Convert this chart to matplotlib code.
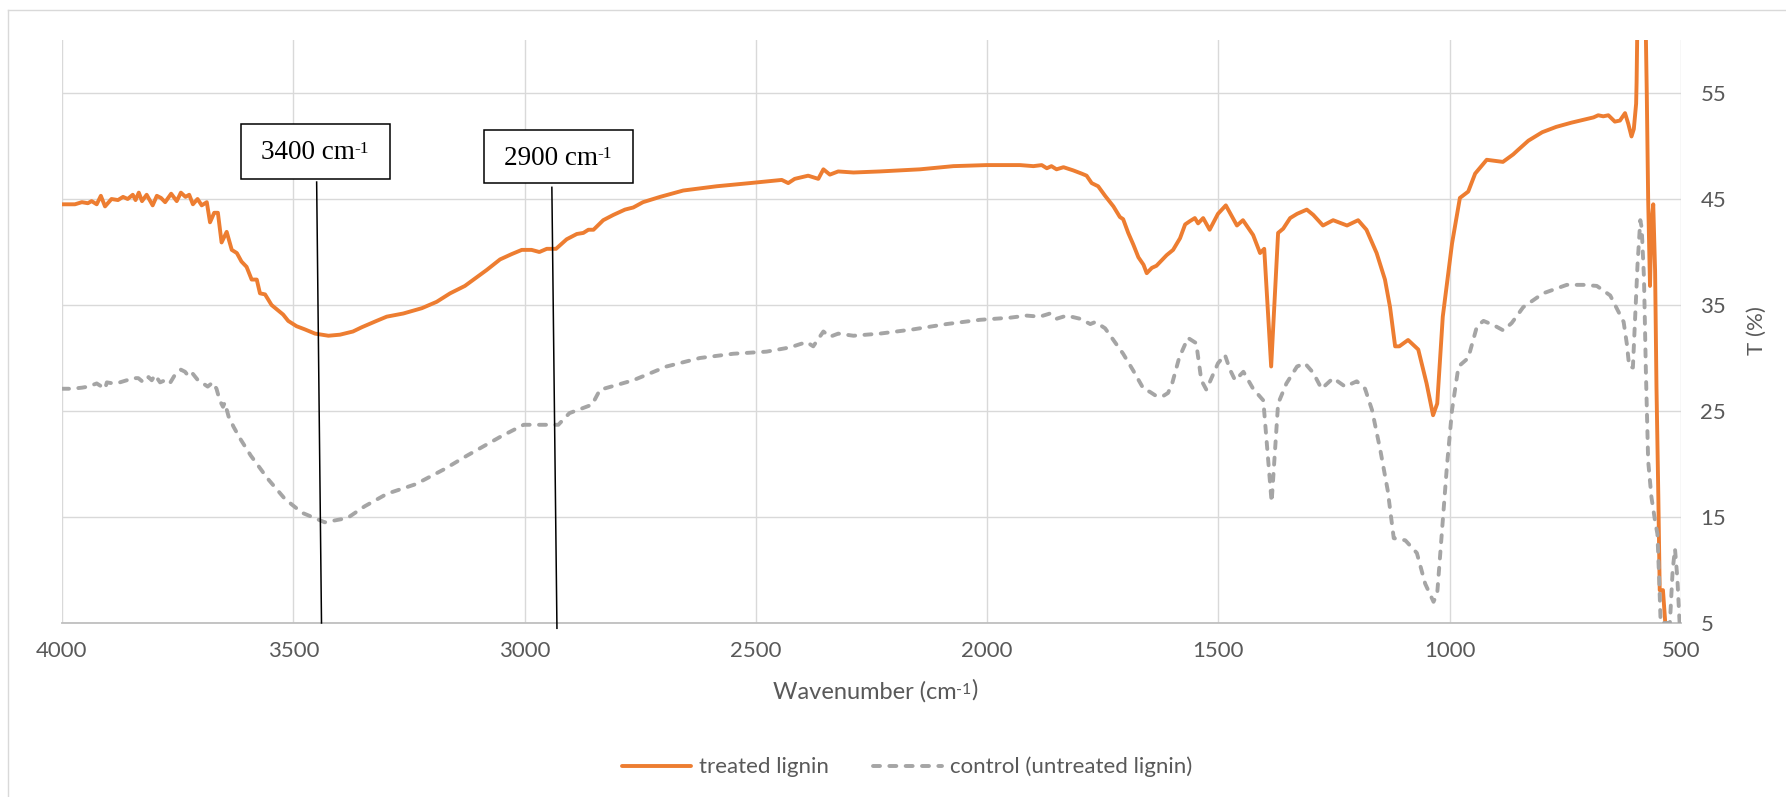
import matplotlib
matplotlib.use("Agg")
import matplotlib.pyplot as plt
from matplotlib.patches import Rectangle
from matplotlib.lines import Line2D

# ---------------- data ----------------
treated_wn = [4000, 3972, 3957, 3944, 3936, 3925, 3916, 3907, 3893, 3879, 3868, 3858, 3847, 3841,
              3834, 3827, 3817, 3804, 3795, 3786, 3777, 3764, 3752, 3743, 3733, 3725, 3717, 3707,
              3698, 3687, 3680, 3671, 3663, 3655, 3644, 3633, 3622, 3612, 3601, 3590, 3579, 3572,
              3561, 3547, 3536, 3522, 3511, 3493, 3475, 3453, 3424, 3399, 3371, 3352, 3320, 3298,
              3262, 3222, 3190, 3161, 3129, 3107, 3082, 3053, 3028, 3006, 2985, 2968, 2952, 2932,
              2909, 2887, 2873, 2862, 2851, 2830, 2808, 2783, 2765, 2744, 2707, 2657, 2585, 2513,
              2444, 2430, 2416, 2387, 2365, 2354, 2340, 2322, 2289, 2232, 2145, 2073, 2001, 1958,
              1929, 1900, 1882, 1871, 1861, 1850, 1835, 1814, 1796, 1785, 1774, 1760, 1745, 1727,
              1713, 1706, 1695, 1684, 1673, 1662, 1655, 1644, 1634, 1612, 1598, 1583, 1572, 1562,
              1551, 1544, 1533, 1519, 1501, 1484, 1460, 1447, 1425, 1410, 1401, 1386, 1371, 1360,
              1345, 1330, 1309, 1295, 1274, 1252, 1222, 1198, 1180, 1158, 1140, 1129, 1118, 1109,
              1090, 1068, 1050, 1036, 1027, 1015, 995, 978, 960, 945, 920, 885, 863, 853, 830,
              800, 770, 737, 718, 689, 679, 668, 657, 643, 632, 621, 614, 607, 602, 597, 596, 593,
              578, 574, 571, 567, 564, 560, 556, 553, 549, 546, 539, 534]
treated_T = [44.5, 44.5, 44.7, 44.6, 44.8, 44.5, 45.3, 44.3, 45.0, 44.9, 45.2, 45.0, 45.4, 44.9,
             45.6, 44.8, 45.4, 44.4, 45.3, 45.1, 44.7, 45.5, 44.8, 45.6, 45.2, 45.4, 44.5, 45.0,
             44.4, 44.7, 42.8, 43.7, 43.7, 40.9, 41.9, 40.2, 39.9, 39.1, 38.6, 37.4, 37.4, 36.1,
             36.0, 35.0, 34.6, 34.1, 33.5, 33.0, 32.7, 32.3, 32.1, 32.2, 32.5, 32.9, 33.5, 33.9,
             34.2, 34.7, 35.3, 36.1, 36.8, 37.5, 38.3, 39.3, 39.8, 40.2, 40.2, 40.0, 40.3, 40.3,
             41.2, 41.7, 41.8, 42.1, 42.1, 43.0, 43.5, 44.0, 44.2, 44.7, 45.2, 45.8, 46.2, 46.5,
             46.8, 46.5, 46.9, 47.2, 46.9, 47.8, 47.3, 47.6, 47.5, 47.6, 47.8, 48.1, 48.2, 48.2,
             48.2, 48.1, 48.2, 47.9, 48.1, 47.8, 48.0, 47.7, 47.4, 47.2, 46.5, 46.2, 45.3, 44.3,
             43.3, 43.1, 41.8, 40.7, 39.5, 38.8, 38.0, 38.5, 38.7, 39.7, 40.2, 41.3, 42.6, 42.9,
             43.2, 42.7, 43.2, 42.1, 43.6, 44.4, 42.5, 43.0, 41.6, 39.9, 40.3, 29.2, 41.8, 42.2,
             43.2, 43.6, 44.0, 43.5, 42.5, 43.0, 42.5, 43.0, 42.1, 39.9, 37.4, 34.8, 31.1, 31.1,
             31.7, 30.8, 27.6, 24.6, 25.7, 33.9, 40.8, 45.1, 45.7, 47.4, 48.7, 48.5, 49.2, 49.6, 50.5,
             51.3, 51.8, 52.2, 52.4, 52.7, 52.9, 52.8, 52.9, 52.3, 52.4, 53.1, 52.1, 50.9, 51.6, 54.0, 56.0, 66.0,
             66.0, 55.0, 45.0, 36.8, 42.6, 44.5, 38.2, 27.2, 16.9, 8.1, 8.1, 5.0]

control_wn = [4000, 3979, 3957, 3943, 3925, 3907, 3903, 3889, 3875, 3860, 3849, 3835, 3824, 3813,
              3806, 3799, 3788, 3777, 3767, 3756, 3743, 3734, 3725, 3717, 3706, 3695, 3685, 3674,
              3666, 3659, 3652, 3648, 3640, 3629, 3615, 3592, 3555, 3518, 3481, 3432, 3383, 3346,
              3297, 3235, 3174, 3124, 3051, 3002, 2965, 2927, 2903, 2854, 2837, 2765, 2693, 2621,
              2549, 2477, 2426, 2405, 2390, 2376, 2354, 2340, 2322, 2289, 2232, 2160, 2088, 2016,
              1951, 1915, 1886, 1864, 1850, 1828, 1799, 1777, 1766, 1745, 1727, 1706, 1684, 1662,
              1648, 1634, 1620, 1609, 1600, 1585, 1566, 1548, 1537, 1526, 1501, 1486, 1475, 1464,
              1446, 1425, 1403, 1385, 1371, 1353, 1330, 1313, 1295, 1277, 1252, 1226, 1201, 1183,
              1168, 1150, 1134, 1121, 1096, 1071, 1053, 1035, 1027, 1017, 1006, 995, 981, 960, 941,
              927, 905, 884, 866, 841, 798, 747, 711, 682, 653, 639, 624, 617, 612, 604, 599, 594,
              588, 585, 580, 576, 571, 564, 556, 551, 547, 544, 524, 518, 513, 508, 503]
control_T = [27.1, 27.1, 27.2, 27.3, 27.6, 27.1, 27.7, 27.6, 27.7, 27.9, 28.1, 28.1, 27.7, 28.2,
             27.9, 28.4, 27.7, 27.9, 27.6, 28.4, 28.9, 28.7, 28.2, 28.5, 27.9, 27.6, 27.3, 27.7,
             27.1, 26.0, 25.4, 25.8, 24.5, 23.5, 22.4, 20.8, 18.6, 16.7, 15.4, 14.5, 14.9, 16.0,
             17.2, 18.1, 19.5, 20.8, 22.6, 23.7, 23.7, 23.7, 24.8, 25.6, 27.0, 27.9, 29.2, 30.0,
             30.4, 30.6, 31.0, 31.3, 31.5, 31.1, 32.5, 32.0, 32.3, 32.1, 32.3, 32.7, 33.2, 33.6,
             33.8, 34.0, 33.9, 34.2, 33.7, 34.0, 33.7, 33.2, 33.4, 32.8, 31.7, 30.4, 28.8, 27.1,
             26.8, 26.4, 26.4, 26.7, 27.6, 30.0, 31.9, 31.4, 27.9, 27.0, 29.5, 30.3, 28.9, 27.9,
             28.7, 27.1, 26.0, 16.4, 25.7, 27.6, 29.2, 29.5, 28.6, 27.1, 28.1, 27.3, 27.8, 27.1,
             25.1, 21.3, 17.5, 13.0, 12.8, 11.6, 8.7, 7.0, 7.8, 13.5, 19.8, 25.1, 29.2, 30.0, 33.0,
             33.5, 33.1, 32.6, 33.3, 34.8, 36.1, 36.9, 36.9, 36.8, 35.9, 34.7, 33.4, 31.3, 29.2, 29.1, 34.0, 38.8,
             43.0, 42.3, 37.5, 28.9, 20.3, 16.9, 14.6, 13.4, 8.9, 5.0, 5.0, 10.0, 12.0, 9.3, 5.0]

x_ticks = [4000, 3500, 3000, 2500, 2000, 1500, 1000, 500]
y_ticks = [5, 15, 25, 35, 45, 55]
series_labels = ["treated lignin", "control (untreated lignin)"]
callout_labels = ["3400 cm", "2900 cm"]
unit_superscript = "-1"
x_title = "Wavenumber (cm"
y_title = "T (%)"

# ---------------- figure ----------------
W, H = 1786, 797
fig = plt.figure(figsize=(W / 100, H / 100), dpi=100)
fig.patch.set_facecolor("white")

L, R, T, B = 62, 1681, 40, 623
ax = fig.add_axes([L / W, 1 - B / H, (R - L) / W, (B - T) / H])

txt_color = "#595959"
sans = ["Lato", "DejaVu Sans"]
serif = ["Liberation Serif", "DejaVu Serif"]

orange = "#ED7D31"
gray = "#A5A5A5"

ax.plot(treated_wn, treated_T, color=orange, lw=2.8, solid_joinstyle="round",
        solid_capstyle="round", label=series_labels[0], zorder=3)
ax.plot(control_wn, control_T, color=gray, lw=2.8, dashes=(1.8, 2.4),
        dash_capstyle="round", dash_joinstyle="round", label=series_labels[1], zorder=3)

ax.set_xlim(4000, 500)
ax.set_ylim(5, 60)
ax.set_xticks(x_ticks)
ax.set_yticks(y_ticks)
ax.yaxis.tick_right()
ax.grid(True, color="#D9D9D9", lw=1.0)
ax.set_axisbelow(True)
for s in ["top", "left", "right"]:
    ax.spines[s].set_visible(False)
ax.spines["bottom"].set_color("#BFBFBF")
ax.spines["bottom"].set_linewidth(1.3)
ax.spines["bottom"].set_zorder(2)
ax.tick_params(axis="both", length=0, labelsize=16, labelcolor=txt_color)
ax.tick_params(axis="x", pad=13)
ax.tick_params(axis="y", pad=14)
for lab in ax.get_xticklabels() + ax.get_yticklabels():
    lab.set_family(sans)

# axis titles (superscript unit drawn as separate small text)
xt = ax.annotate(x_title, xy=((L + R) / 2 / W, 1 - 692 / H), xycoords="figure fraction",
                 xytext=(-5, 0), textcoords="offset points", ha="center", va="center",
                 fontsize=17, color=txt_color, family=sans)
ax.annotate(unit_superscript + ")", xy=(1.0, 0.5), xycoords=xt, ha="left", va="center",
            fontsize=17, color="white", family=sans, alpha=0)
sup = ax.annotate(unit_superscript, xy=(1.0, 0.93), xycoords=xt, ha="left", va="top",
                  fontsize=11.5, color=txt_color, family=sans)
ax.annotate(")", xy=(1.0, 0.5), xycoords=sup, xytext=(0, 0), textcoords="offset points",
            ha="left", va="center", fontsize=17, color=txt_color, family=sans,
            annotation_clip=False)
fig.text(1757 / W, 1 - 331 / H, y_title, rotation=90, ha="center", va="center",
         fontsize=16, color=txt_color, family=sans)

# callout boxes with leader lines
boxes = [((3612.4, 46.92), 3291.6 - 3612.4, 52.08 - 46.92),
         ((3087.1, 46.48), 2766.3 - 3087.1, 51.51 - 46.48)]
leaders = [((3449.5, 3439.0), (46.6, 5.0)), ((2941.0, 2930.0), (46.1, 4.5))]
for (xy, w, h), lab, (lx, ly) in zip(boxes, callout_labels, leaders):
    ax.add_patch(Rectangle(xy, w, h, facecolor="white", edgecolor="black", lw=1.1,
                           zorder=5, clip_on=False))
    main = ax.annotate(lab, xy=(xy[0] + w / 2, xy[1] + h / 2), xytext=(-5.5, -1),
                       textcoords="offset points", ha="center", va="center", fontsize=19.5,
                       family=serif, color="black", zorder=6)
    ax.annotate(unit_superscript, xy=(1.0, 0.97), xycoords=main, ha="left", va="top",
                fontsize=12.5, family=serif, color="black", zorder=6)
    ax.plot(lx, ly, color="black", lw=1.1, zorder=4, clip_on=False)

# legend
leg = ax.legend(loc="center", bbox_to_anchor=(907 / W, 1 - 767 / H),
                bbox_transform=fig.transFigure, ncol=2, frameon=False,
                prop={"family": sans, "size": 16}, handlelength=3.1,
                handletextpad=0.35, columnspacing=2.0)
for t in leg.get_texts():
    t.set_color(txt_color)

# outer chart border (top and left visible)
fig.add_artist(Line2D([8 / W, 8 / W], [0, 1 - 10 / H], transform=fig.transFigure,
                      color="#D9D9D9", lw=1.0))
fig.add_artist(Line2D([8 / W, 1], [1 - 10 / H, 1 - 10 / H], transform=fig.transFigure,
                      color="#D9D9D9", lw=1.0))

fig.savefig("out.png", dpi=100, facecolor="white")
